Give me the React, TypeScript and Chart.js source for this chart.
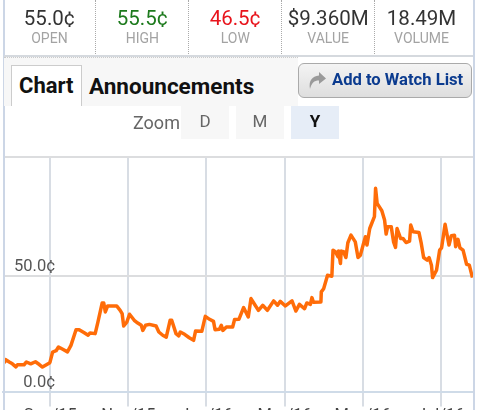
import React, { useEffect, useRef } from "react";
import { Chart, registerables } from "chart.js";

Chart.register(...registerables);

const stats = [
  { value: "55.0¢", label: "OPEN", color: "#333333" },
  { value: "55.5¢", label: "HIGH", color: "#1d7a1d" },
  { value: "46.5¢", label: "LOW", color: "#e8141c" },
  { value: "$9.360M", label: "VALUE", color: "#333333" },
  { value: "18.49M", label: "VOLUME", color: "#333333" },
];
const zoomButtons = ["D", "M", "Y"];
const monthLabels = ["Sep/15", "Nov/15", "Jan/16", "Mar/16", "May/16", "Jul/16"];
const monthTicks = [0, 2, 4, 6, 8, 10];
const CENT_TOP = 101.7;
const centTicks = [0, 50, CENT_TOP];

// time position in months since Sep/15
const months = [
  -1.18, -1.14, -1.05, -0.97, -0.88, -0.84, -0.67, -0.61, -0.5, -0.38, -0.28, -0.2, -0.11, -0.01, 0.06, 0.15, 0.21, 0.32, 0.44, 0.53,
  0.66, 0.74, 0.87, 0.97, 1.02, 1.15, 1.22, 1.33, 1.37, 1.41, 1.47, 1.7, 1.79, 1.84, 1.88, 1.96, 2.03, 2.15, 2.24, 2.33,
  2.37, 2.44, 2.54, 2.71, 2.78, 2.88, 2.97, 3.07, 3.11, 3.22, 3.29, 3.33, 3.44, 3.56, 3.67, 3.72, 3.88, 3.97, 4.08, 4.18,
  4.22, 4.33, 4.38, 4.42, 4.51, 4.67, 4.72, 4.83, 4.95, 5.07, 5.14, 5.21, 5.33, 5.44, 5.56, 5.72, 5.82, 5.89, 6.02, 6.19,
  6.29, 6.38, 6.51, 6.57, 6.66, 6.7, 6.74, 6.93, 6.94, 7.0, 7.1, 7.21, 7.24, 7.3, 7.37, 7.38, 7.43, 7.45, 7.51, 7.57,
  7.62, 7.7, 7.81, 7.88, 7.94, 8.01, 8.07, 8.11, 8.18, 8.3, 8.33, 8.37, 8.49, 8.56, 8.6, 8.64, 8.73, 8.79, 8.84, 8.88,
  8.97, 9.03, 9.11, 9.2, 9.23, 9.29, 9.44, 9.5, 9.56, 9.65, 9.7, 9.76, 9.79, 9.89, 9.97, 10.02, 10.11, 10.21, 10.27, 10.35,
  10.38, 10.44, 10.49, 10.57, 10.66, 10.73, 10.81,
];
const cents = [
  12.3, 13.8, 12.8, 12.0, 10.7, 11.6, 11.6, 12.8, 12.0, 12.9, 11.7, 10.6, 11.5, 12.5, 17.1, 17.7, 19.3, 18.3, 17.2, 20.0,
  26.8, 26.8, 25.5, 24.4, 25.4, 25.1, 30.1, 38.4, 38.4, 34.5, 37.1, 37.1, 35.2, 33.8, 28.4, 30.1, 33.5, 30.9, 29.7, 28.7,
  26.5, 28.7, 29.1, 28.4, 25.8, 24.4, 23.6, 30.9, 30.9, 25.1, 24.1, 25.8, 24.8, 23.3, 22.2, 26.2, 26.1, 32.6, 31.3, 30.4,
  26.8, 27.0, 28.7, 26.5, 28.0, 28.0, 31.2, 31.3, 36.4, 32.3, 40.3, 38.4, 35.2, 37.4, 35.2, 39.3, 37.4, 39.1, 37.1, 39.3,
  34.9, 37.8, 35.9, 38.4, 37.8, 40.7, 38.7, 38.8, 43.2, 44.6, 50.4, 50.0, 61.3, 60.6, 58.4, 60.9, 55.5, 60.9, 60.6, 58.1,
  64.5, 67.8, 64.9, 58.1, 59.1, 63.5, 67.1, 63.5, 70.7, 75.8, 88.1, 81.6, 78.4, 74.4, 68.3, 71.5, 71.5, 64.9, 62.5, 70.7,
  66.4, 66.4, 64.6, 65.2, 72.2, 69.3, 69.0, 64.2, 58.1, 57.0, 58.1, 54.8, 49.4, 52.6, 61.3, 62.3, 72.5, 63.5, 67.6, 67.8,
  62.8, 66.0, 62.3, 61.3, 55.2, 54.8, 49.4,
];

const abs = (left: number, top: number, width: number, height: number): React.CSSProperties => ({
  position: "absolute", left, top, width, height,
});
const FONT = "Roboto, sans-serif";

export default function App() {
  const ref = useRef<HTMLCanvasElement>(null);
  useEffect(() => {
    const chart = new Chart(ref.current!, {
      type: "line",
      data: {
        datasets: [{
          data: months.map((m, i) => ({ x: m, y: cents[i] })),
          borderColor: "#ff6c08",
          borderWidth: 3.5,
          pointRadius: 0,
          tension: 0,
          borderJoinStyle: "round",
        }],
      },
      options: {
        animation: false,
        responsive: false,
        devicePixelRatio: 1,
        layout: { padding: { left: 3, right: 14, top: 157, bottom: 18.5 } },
        plugins: { legend: { display: false }, tooltip: { enabled: false } },
        scales: {
          x: {
            type: "linear",
            min: -1.21,
            max: 10.85,
            afterBuildTicks: (s: any) => { s.ticks = monthTicks.map((value) => ({ value })); },
            afterFit: (s: any) => { s.height = 20; },
            grid: { color: "#d8dde4", lineWidth: 2, tickLength: 15, drawTicks: true },
            border: { color: "#cfdbe8", width: 2 },
            ticks: {
              autoSkip: false, maxRotation: 0, padding: -1,
              color: "#444444",
              font: { family: FONT, size: 16.5 },
              callback: (v: any) => monthLabels[monthTicks.indexOf(Number(v))],
            },
          },
          y: {
            min: 0,
            max: CENT_TOP,
            afterBuildTicks: (s: any) => { s.ticks = centTicks.map((value) => ({ value })); },
            afterFit: (s: any) => { s.width = 0; },
            grid: { color: "#dcdddf", lineWidth: 2, drawTicks: false },
            border: { display: false },
            ticks: {
              mirror: true, padding: 11, z: 2,
              color: "#555555",
              font: { family: FONT, size: 16.5, lineHeight: 1.09 },
              callback: (v: any) => {
                const n = Number(v);
                if (n === CENT_TOP) return "";
                return [(n === 0 ? "\u2007" : "") + n.toFixed(1) + "¢", ""];
              },
            },
          },
        },
      },
    });
    return () => chart.destroy();
  }, []);

  return (
    <div style={{ position: "fixed", left: 0, top: 0, width: 488, height: 410, overflow: "hidden", background: "#fff", fontFamily: FONT }}>
      <canvas ref={ref} width={488} height={430} style={{ position: "absolute", left: 0, top: 0, display: "block" }} />
      <div style={{ ...abs(3, 0, 1.5, 410), background: "#ccd6e6" }} />
      <div style={{ ...abs(473, 0, 1.5, 410), background: "#ccd6e6" }} />
      {stats.map((s, i) => (
        <div key={s.label} style={{ ...abs(3.5 + i * 92.9, 0, 92.9, 54), textAlign: "center", borderRight: i < 4 ? "1px dotted #aaaaaa" : "none", boxSizing: "border-box" }}>
          <div style={{ position: "absolute", top: 6, width: "100%", fontSize: 20.5, lineHeight: "24px", color: s.color }}>{s.value}</div>
          <div style={{ position: "absolute", top: 29, width: "100%", fontSize: 14, lineHeight: "18px", color: "#a3a3a3" }}>{s.label}</div>
        </div>
      ))}
      <div style={{ ...abs(4, 55, 469, 1.5), background: "#d5d9de" }} />
      <div style={{ ...abs(4, 57, 294, 49), background: "#f7f7f7", borderTop: "1px dotted #cccccc", boxSizing: "border-box" }} />
      <div style={{ ...abs(11, 65, 71, 41), background: "#fff", border: "1px solid #cccccc", borderBottom: "none", boxSizing: "border-box" }} />
      <div style={{ ...abs(19, 72, 70, 28), fontSize: 22, fontWeight: 700, lineHeight: "28px", color: "#111" }}>Chart</div>
      <div style={{ ...abs(89, 72, 200, 28), fontSize: 22.5, fontWeight: 700, lineHeight: "28px", color: "#111" }}>Announcements</div>
      <div style={{ ...abs(298, 63, 174, 35), boxSizing: "border-box", border: "1px solid #aaaaaa", borderRadius: 6, background: "linear-gradient(#f4f4f4,#dedede)" }} />
      <svg style={abs(307, 70, 20, 20)} viewBox="0 0 20 20">
        <path d="M12 2 L19 8.5 L12 14 L12 10.5 C7 10.5 4.5 13 3 19 C1.5 11 5 6 12 5.5 Z" fill="#9a9a9a" />
      </svg>
      <div style={{ ...abs(332, 68, 140, 24), fontSize: 16.6, fontWeight: 700, lineHeight: "24px", color: "#0b3b8f", whiteSpace: "nowrap" }}>Add to Watch List</div>
      <div style={{ ...abs(133, 111, 48, 24), fontSize: 18, lineHeight: "24px", color: "#666" }}>Zoom</div>
      {zoomButtons.map((b, i) => (
        <div key={b} style={{ ...abs(181 + i * 55, 106, 48, 33), textAlign: "center", fontSize: 17, lineHeight: "30px", background: b === "Y" ? "#e6edf7" : "#f7f7f7", color: b === "Y" ? "#111" : "#666", fontWeight: b === "Y" ? 700 : 400 }}>{b}</div>
      ))}
    </div>
  );
}
